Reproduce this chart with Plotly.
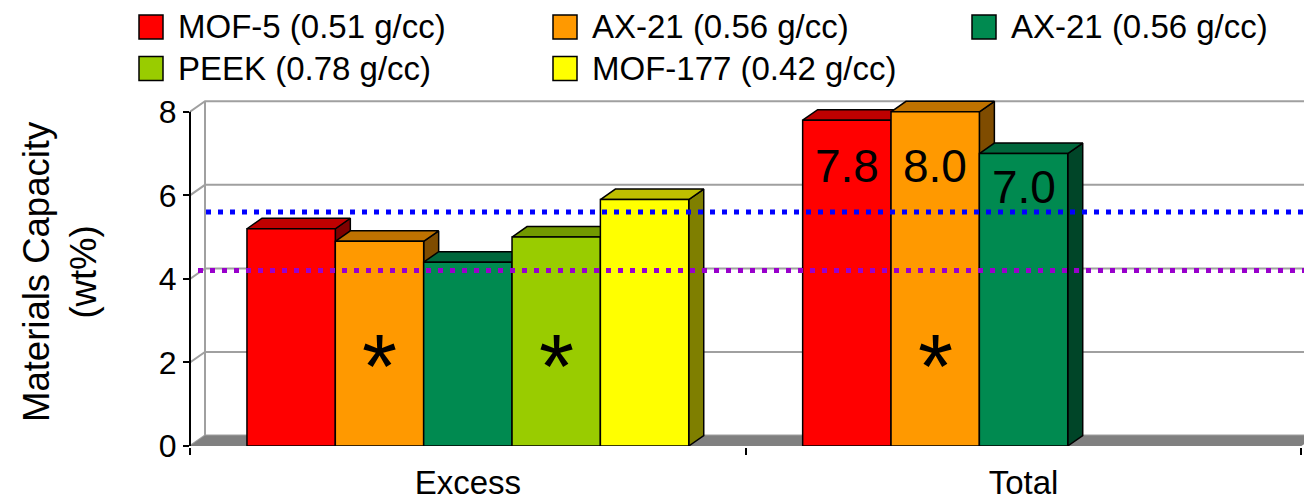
import plotly.graph_objects as go

# ---- data -------------------------------------------------------------
categories = ["Excess", "Total"]
series_names = [
    "MOF-5 (0.51 g/cc)",
    "AX-21 (0.56 g/cc)",
    "AX-21 (0.56 g/cc)",
    "PEEK (0.78 g/cc)",
    "MOF-177 (0.42 g/cc)",
]
excess_values = [5.2, 4.9, 4.4, 5.0, 5.9]
total_values = [7.8, 8.0, 7.0, None, None]
target_lines = [5.6, 4.2]
starred = [(1, 0), (3, 0), (1, 1)]          # (series index, category index)
y_ticks = [0, 2, 4, 6, 8]

# ---- style ------------------------------------------------------------
front_colors = ["#FF0000", "#FF9900", "#008A50", "#99CC00", "#FFFF00"]
target_colors = ["#0000FF", "#9900CC"]
FONT = "Liberation Sans, Arial, sans-serif"
NARROW = "Liberation Sans Narrow, Arial Narrow, Liberation Sans, sans-serif"

W, H = 1304, 503
M_L, M_R, M_T, M_B = 190, 0, 98, 57
PLOT_W = W - M_L - M_R
PLOT_H = H - M_T - M_B
Y_MAX = 8.33
PX_PER_CAT = 555.7
X_MIN = -0.5
X_MAX = X_MIN + PLOT_W / PX_PER_CAT
BARGAP = 0.205
N = len(series_names)
SLOT = (1 - BARGAP) / N
DX = 15 / PX_PER_CAT                 # depth offset of the 3-D faces
DY = 10.5 / (PLOT_H / Y_MAX)


def shade(hex_color, f):
    r, g, b = (int(hex_color[i:i + 2], 16) for i in (1, 3, 5))
    return "#%02X%02X%02X" % (int(r * f), int(g * f), int(b * f))


def px2x(px):
    return (px - M_L) / PLOT_W


def py2y(py):
    return (H - M_B - py) / PLOT_H


xpos = list(range(len(categories)))
values = [[excess_values[i], total_values[i]] for i in range(N)]

fig = go.Figure()

# back wall gridlines with their short diagonal link to the front axis
gx, gy = [], []
for v in y_ticks:
    gx += [X_MIN, X_MIN + DX, X_MAX + DX, None]
    gy += [v, v + DY, v + DY, None]
gx += [X_MIN + DX, X_MIN + DX]
gy += [DY, y_ticks[-1] + DY]
fig.add_trace(go.Scatter(x=gx, y=gy, mode="lines", line=dict(color="#A0A0A0", width=2),
                         hoverinfo="skip", showlegend=False, zorder=-3))

# floor
x_end = xpos[-1] + 0.5
fig.add_trace(go.Scatter(
    x=[X_MIN, x_end, x_end + DX, X_MIN + DX, X_MIN],
    y=[0, 0, DY, DY, 0],
    mode="lines", fill="toself", fillcolor="#808080", line=dict(color="#808080", width=0),
    hoverinfo="skip", showlegend=False, zorder=-2))

# bars: shaded top/side faces below each series' front face
for i in range(N):
    offset = -(1 - BARGAP) / 2 + (i + 0.5) * SLOT
    tx, ty, sx, sy = [], [], [], []
    for c, v in zip(xpos, values[i]):
        if v is None:
            continue
        left = c + offset - SLOT / 2
        right = c + offset + SLOT / 2
        tx += [left, right, right + DX, left + DX, left, None]
        ty += [v, v, v + DY, v + DY, v, None]
        sx += [right, right + DX, right + DX, right, right, None]
        sy += [0, DY, v + DY, v, 0, None]
    fig.add_trace(go.Scatter(x=sx, y=sy, mode="lines", fill="toself",
                             fillcolor=shade(front_colors[i], 0.5),
                             line=dict(color="black", width=1.5),
                             hoverinfo="skip", showlegend=False, zorder=2 * i))
    fig.add_trace(go.Scatter(x=tx, y=ty, mode="lines", fill="toself",
                             fillcolor=shade(front_colors[i], 0.75),
                             line=dict(color="black", width=1.5),
                             hoverinfo="skip", showlegend=False, zorder=2 * i))
    fig.add_trace(go.Bar(
        x=xpos, y=values[i], name=series_names[i],
        marker=dict(color=front_colors[i], line=dict(color="black", width=1.5)),
        showlegend=False, zorder=2 * i + 1))

annotations = []
shapes = []

# value labels on the total bars
label_drop = [1.1, 1.3, 0.8]
for i in range(N):
    v = total_values[i]
    if v is None:
        continue
    offset = -(1 - BARGAP) / 2 + (i + 0.5) * SLOT
    annotations.append(dict(
        x=xpos[1] + offset, y=v - label_drop[i], xref="x", yref="y",
        text="%.1f" % v, showarrow=False, xanchor="center", yanchor="middle",
        font=dict(family=NARROW, size=46, color="black")))

# asterisks
for i, c in starred:
    offset = -(1 - BARGAP) / 2 + (i + 0.5) * SLOT
    annotations.append(dict(
        x=xpos[c] + offset, y=2.24, xref="x", yref="y", text="*", showarrow=False,
        xanchor="center", yanchor="middle", yshift=-15,
        font=dict(family=FONT, size=90, color="black")))

# dotted target lines
starts = [206, 198]
for t, col, s in zip(target_lines, target_colors, starts):
    shapes.append(dict(type="line", xref="paper", yref="y", x0=px2x(s), x1=1.0,
                       y0=t, y1=t, layer="above",
                       line=dict(color=col, width=5, dash="5px,7px")))

# front y-axis line (stops at the top tick)
shapes.append(dict(type="line", xref="paper", yref="y", x0=0, x1=0, y0=0,
                   y1=y_ticks[-1], line=dict(color="black", width=2), layer="above"))

# legend
col_left = [139, 553, 972]
row_mid = [27, 68.5]
SQ = 24
for k, name in enumerate(series_names):
    r, c = divmod(k, 3)
    x0 = col_left[c]
    yc = row_mid[r]
    shapes.append(dict(type="rect", xref="paper", yref="paper",
                       x0=px2x(x0), x1=px2x(x0 + SQ), y0=py2y(yc + SQ / 2), y1=py2y(yc - SQ / 2),
                       fillcolor=front_colors[k], line=dict(color="black", width=1.5)))
    annotations.append(dict(x=px2x(x0 + 37), y=py2y(yc), xref="paper", yref="paper",
                            text=name, showarrow=False, xanchor="left", yanchor="middle",
                            font=dict(family=FONT, size=33, color="black")))

# y-axis title
annotations.append(dict(x=px2x(60), y=py2y(272), xref="paper", yref="paper",
                        text="Materials Capacity<br>(wt%)", textangle=-90, showarrow=False,
                        xanchor="center", yanchor="middle",
                        font=dict(family=FONT, size=36.5, color="black")))

fig.update_layout(
    width=W, height=H,
    margin=dict(l=M_L, r=M_R, t=M_T, b=M_B, autoexpand=False),
    paper_bgcolor="white", plot_bgcolor="white",
    barmode="group", bargap=BARGAP, bargroupgap=0,
    showlegend=False,
    annotations=annotations, shapes=shapes,
    xaxis=dict(
        range=[X_MIN, X_MAX], tickvals=xpos, ticktext=categories, ticks="",
        showgrid=False, zeroline=False, showline=True, linecolor="black", linewidth=2,
        tickfont=dict(family=FONT, size=33, color="black"), ticklabelstandoff=6,
        minor=dict(tickvals=[c - 0.5 for c in xpos] + [xpos[-1] + 0.5], ticks="outside",
                   ticklen=7, tickwidth=2, tickcolor="black"),
        fixedrange=True,
    ),
    yaxis=dict(
        range=[0, Y_MAX], tickvals=y_ticks, ticks="outside", ticklen=6, tickwidth=2,
        tickcolor="black", showgrid=False, zeroline=False, showline=False,
        tickfont=dict(family=FONT, size=32, color="black"),
        fixedrange=True,
    ),
)

fig.write_html("out.html")
